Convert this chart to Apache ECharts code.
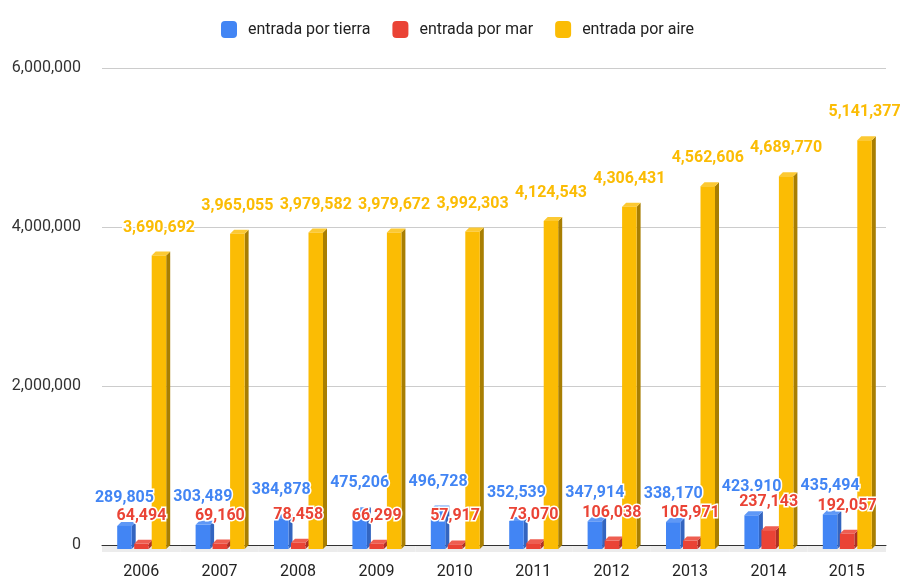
<!DOCTYPE html>
<html>
<head>
<meta charset="utf-8">
<script src="https://cdn.jsdelivr.net/npm/echarts@6/dist/echarts.min.js"></script>
<style>
  html, body { margin: 0; padding: 0; background: #fff; }
  #chart { width: 900px; height: 580px; }
</style>
</head>
<body>
<div id="chart"></div>
<script>
var years = ['2006', '2007', '2008', '2009', '2010', '2011', '2012', '2013', '2014', '2015'];
var tierra = [289805, 303489, 384878, 475206, 496728, 352539, 347914, 338170, 423910, 435494];
var mar = [64494, 69160, 78458, 66299, 57917, 73070, 106038, 105971, 237143, 192057];
var aire = [3690692, 3965055, 3979582, 3979672, 3992303, 4124543, 4306431, 4562606, 4689770, 5141377];
var yTicks = [0, 2000000, 4000000, 6000000];

// the 2014 label is written with a dot in the original
var tierraText = { 8: '423.910' };

var chart = echarts.init(document.getElementById('chart'));

function fmt(v) {
  return String(v).replace(/\B(?=(\d{3})+(?!\d))/g, ',');
}

var W = 14.5, D = 4;

function bars(offset, front, side, top, floor) {
  return function (params, api) {
    var idx = api.value(0);
    var p0 = api.coord([idx, 0]);
    var pv = api.coord([idx, api.value(1)]);
    var x = p0[0] + offset;
    var yf = pv[1] + D, yb = p0[1] + D;
    var kids = [];
    if (floor) {
      var band = api.size([1, 0])[0];
      kids.push({ type: 'rect', shape: { x: p0[0] - band / 2, y: p0[1] + 1, width: band, height: 6 },
        style: { fill: '#ececec' }, z2: 0 });
    }
    kids.push({ type: 'polygon', shape: { points: [[x + W, yf], [x + W + D, yf - D], [x + W + D, yb - D], [x + W, yb]] },
      style: { fill: side }, z2: 1 });
    kids.push({ type: 'polygon', shape: { points: [[x, yf], [x + D, yf - D], [x + W + D, yf - D], [x + W, yf]] },
      style: { fill: top }, z2: 1 });
    kids.push({ type: 'rect', shape: { x: x, y: yf, width: W, height: yb - yf },
      style: { fill: front }, z2: 2 });
    return { type: 'group', children: kids };
  };
}

function labels(offset, color, override) {
  return function (params, api) {
    var idx = api.value(0);
    var pv = api.coord([idx, api.value(1)]);
    var txt = (override && override[idx]) || fmt(api.value(1));
    return {
      type: 'text',
      style: {
        text: txt, x: pv[0] + offset + W / 2, y: pv[1] - 16,
        align: 'center', verticalAlign: 'bottom',
        fill: color, stroke: '#fff', lineWidth: 3, strokeFirst: true,
        fontFamily: 'Roboto', fontSize: 16, fontWeight: 'bold'
      }
    };
  };
}

function pairs(arr) {
  return arr.map(function (v, i) { return [i, v]; });
}

var option = {
  animation: false,
  textStyle: { fontFamily: 'Roboto' },
  legend: {
    top: 16, left: 216,
    itemWidth: 16, itemHeight: 17, itemGap: 22,
    icon: 'roundRect',
    textStyle: { fontSize: 16, color: '#222', padding: [0, 0, 0, 6] },
    data: ['entrada por tierra', 'entrada por mar', 'entrada por aire']
  },
  grid: { left: 102, right: 14, top: 68, bottom: 34 },
  xAxis: {
    type: 'category',
    data: years,
    axisTick: { show: false },
    axisLine: { lineStyle: { color: '#333', width: 1 } },
    axisLabel: { color: '#222', fontSize: 16, margin: 19 }
  },
  yAxis: {
    type: 'value',
    min: yTicks[0], max: yTicks[yTicks.length - 1], interval: yTicks[1] - yTicks[0],
    axisLine: { show: false },
    axisTick: { show: false },
    axisLabel: { color: '#333', fontSize: 16, margin: 21, formatter: fmt },
    splitLine: { lineStyle: { color: '#cccccc' } }
  },
  series: [
    { name: 'entrada por tierra', type: 'custom', color: '#4285F4', z: 2,
      renderItem: bars(-24, '#4285F4', '#3365c0', '#5f98f6', true), data: pairs(tierra) },
    { name: 'entrada por mar', type: 'custom', color: '#EA4335', z: 2,
      renderItem: bars(-7, '#EA4335', '#ad3027', '#ee5e51'), data: pairs(mar) },
    { name: 'entrada por aire', type: 'custom', color: '#FBBC04', z: 2,
      renderItem: bars(10.5, '#FBBC04', '#a87e02', '#fcc933'), data: pairs(aire) },
    { name: 'entrada por tierra', type: 'custom', z: 10,
      renderItem: labels(-24, '#4285F4', tierraText), data: pairs(tierra) },
    { name: 'entrada por mar', type: 'custom', z: 10,
      renderItem: labels(-7, '#EA4335'), data: pairs(mar) },
    { name: 'entrada por aire', type: 'custom', z: 10,
      renderItem: labels(10.5, '#FBBC04'), data: pairs(aire) }
  ]
};

chart.setOption(option);
</script>
</body>
</html>
